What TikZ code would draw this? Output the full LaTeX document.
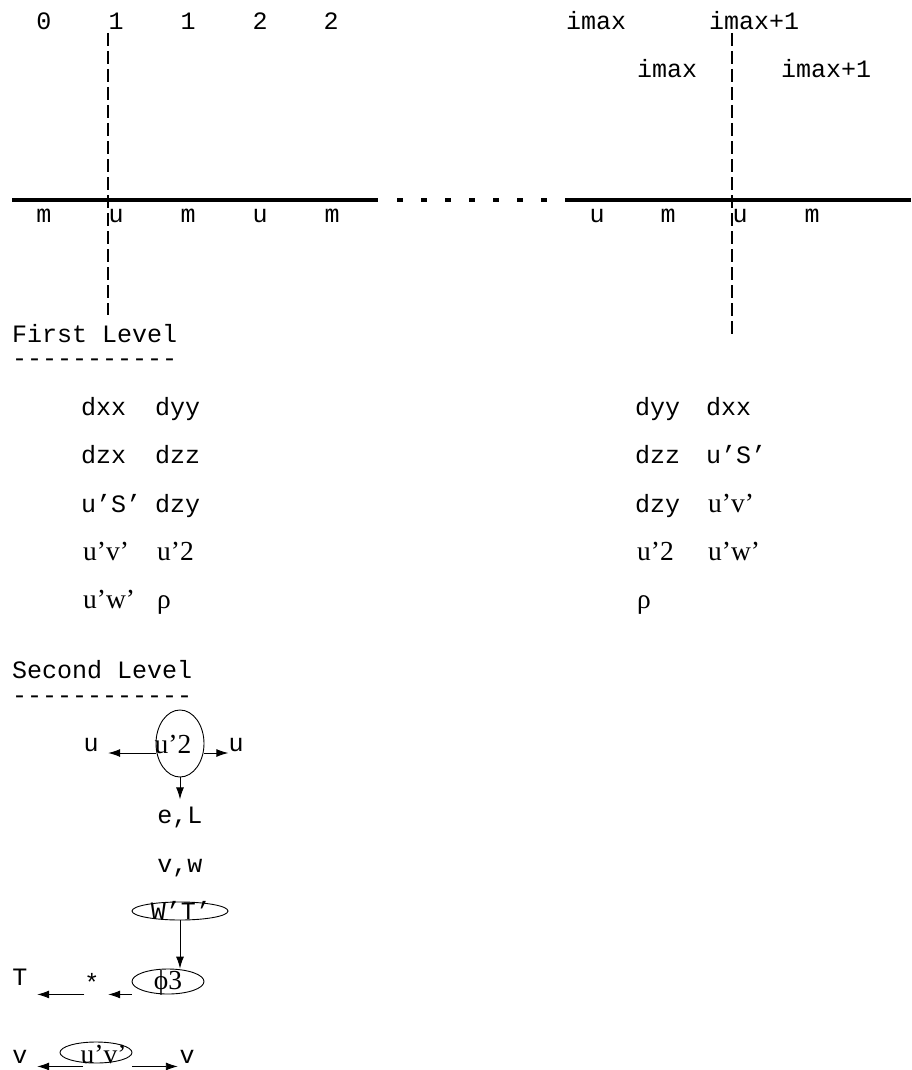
\documentclass[tikz,border=0pt]{standalone}
\usepackage{fontspec}
\setmonofont{Liberation Mono}
\newfontfamily\tms{Liberation Serif}
\usetikzlibrary{arrows.meta,shapes.geometric}
\newcommand\ttf{\ttfamily\fontsize{25}{30}\selectfont}
\newcommand\rmf{\tms\fontsize{27.5}{32}\selectfont}
% text in a bubble: x offset, raise, text
\newcommand\inb[3]{\hspace*{#1}\makebox[0pt]{\raisebox{#2}[0pt][0pt]{#3}}\hspace*{-#1}}

\begin{document}
\begin{tikzpicture}[x=1pt, y=-1pt,
  tt/.style={font=\ttf, inner sep=0pt, anchor=base},
  rm/.style={font=\rmf, inner sep=0pt, anchor=base},
  bub/.style={draw, ellipse, line width=0.9pt, inner sep=0pt},
  arr/.style={line width=0.9pt, -{Latex[length=12pt,width=8pt]}},
  cutline/.style={line width=1.1pt, dash pattern=on 13pt off 5pt},
  gridline/.style={line width=3.2pt}]
\useasboundingbox (0,0) rectangle (911,1070);

% cell indices
\foreach \x/\t in {44/0,116/1,188/1,260/2,331/2}
  \node[tt] (i\x) at (\x,30) {\t};
\node[tt] (imaxa) at (596,30) {imax};
\node[tt] (imaxb) at (754,30) {imax+1};
\node[tt] (imaxc) at (667,78) {imax};
\node[tt] (imaxd) at (826,78) {imax+1};

% grid
\draw[gridline] (12,200) -- (378,200);
\draw[gridline, dash pattern=on 6pt off 18pt] (397,200) -- (547,200);
\draw[gridline] (565,200) -- (911,200);
\foreach \x/\t in {44/m,116/u,188/m,260/u,332/m,597/u,668/m,740/u,812/m}
  \node[tt] (s\x) at (\x,222) {\t};
\draw[cutline] (108,33) -- (108,315);
\draw[cutline] (732,33) -- (732,338);

% first level
\node[tt, anchor=base west] (lev1) at (12,342) {First Level};
\node[tt, anchor=base west] (bar1) at (12,366) {-{}-{}-{}-{}-{}-{}-{}-{}-{}-{}-};
\foreach \y/\a/\b [count=\r] in {415/dxx/dyy,463/dzx/dzz,512/u’S’/dzy}{
  \node[tt, anchor=base west] (la\r) at (81,\y) {\a};
  \node[tt, anchor=base west] (lb\r) at (155,\y) {\b};
}
\node[rm, anchor=base west] (la4) at (83,560) {u’v’};
\node[rm, anchor=base west] (lb4) at (157,560) {u’2};
\node[rm, anchor=base west] (la5) at (83,608) {u’w’};
\node[rm, anchor=base west] (lb5) at (157,608) {ρ};
\foreach \y/\a/\b [count=\r] in {415/dyy/dxx,463/dzz/u’S’}{
  \node[tt, anchor=base west] (ra\r) at (635,\y) {\a};
  \node[tt, anchor=base west] (rb\r) at (706,\y) {\b};
}
\node[tt, anchor=base west] (ra3) at (635,512) {dzy};
\node[rm, anchor=base west] (rb3) at (708,512) {u’v’};
\node[rm, anchor=base west] (ra4) at (637,560) {u’2};
\node[rm, anchor=base west] (rb4) at (708,560) {u’w’};
\node[rm, anchor=base west] (ra5) at (637,608) {ρ};

% second level
\node[tt, anchor=base west] (lev2) at (12,678) {Second Level};
\node[tt, anchor=base west] (bar2) at (12,703) {-{}-{}-{}-{}-{}-{}-{}-{}-{}-{}-{}-};

\node[bub, font=\rmf, minimum width=48pt, minimum height=67pt] (usq) at (180,743.5) {\inb{-7pt}{-9.5pt}{u’2}};
\node[tt] (ul) at (91,751) {u};
\node[tt] (ur) at (236,751) {u};
\coordinate (usqw) at ([yshift=-9.5pt]usq.west);
\coordinate (usqe) at ([yshift=-9.5pt]usq.east);
\draw[arr, shorten >=9.5pt] (usqw) -- (ul.east |- usqw);
\draw[arr] (usqe) -- (ur.west |- usqe);
\node[tt] (el) at (180,823) {e,L};
\draw[arr, shorten >=7pt] (usq.south) -- (el.north);
\node[tt] (vw) at (180,872) {v,w};

\node[bub, font=\ttf, minimum width=96pt, minimum height=18pt] (wt) at (180,911) {\inb{1pt}{-8pt}{W’T’}};
\node[bub, font=\rmf, minimum width=72pt, minimum height=25pt] (ph) at (168,981.5) {\inb{0pt}{-7.5pt}{ϕ3}};
\draw[arr] (wt.south) -- (wt.south |- ph.north);
\node[tt] (st) at (92,991) {*};
\node[tt] (tl) at (20,985) {T};
\coordinate (phs) at (ph.west |- ph.south);
\draw[arr, shorten >=8.5pt] (phs) -- (st.east |- phs);
\draw[arr, shorten >=9.5pt] (st.west |- phs) -- (tl.east |- phs);

\node[bub, font=\rmf, minimum width=72pt, minimum height=21pt] (uv) at (96,1052.5) {\inb{7.5pt}{-10.5pt}{u’v’}};
\node[tt] (vl) at (20,1063) {v};
\node[tt] (vr) at (187,1063) {v};
\coordinate (uvs) at ([yshift=-3pt]uv.south);
\draw[arr, shorten >=9.5pt] ([xshift=-13pt]uvs) -- (vl.east |- uvs);
\draw[arr, shorten >=1.5pt] (uv.east |- uvs) -- (vr.west |- uvs);
\end{tikzpicture}
\end{document}
